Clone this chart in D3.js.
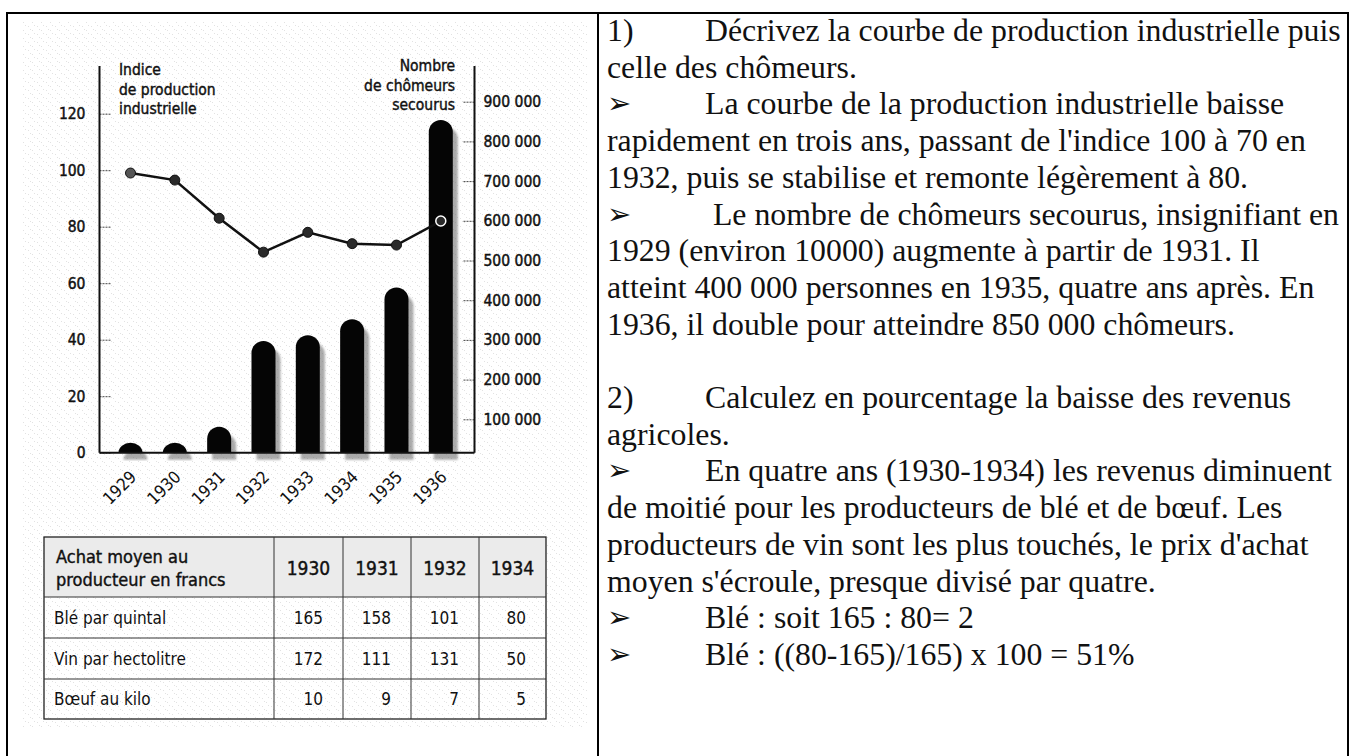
<!DOCTYPE html>
<html>
<head>
<meta charset="utf-8">
<script src="https://cdn.jsdelivr.net/npm/d3@7"></script>
<style>
body{margin:0;background:#fff;}
svg text{fill:#111;}
.ax text{font-family:'DejaVu Sans Condensed','DejaVu Sans',sans-serif;font-size:15.5px;stroke:#111;stroke-width:0.45px;}
.ax line{stroke:#444;stroke-dasharray:2,1;}
.ax path{display:none;}
.cond{font-family:'DejaVu Sans Condensed','DejaVu Sans',sans-serif;}
.thick{stroke:#111;stroke-width:0.4px;}
</style>
</head>
<body>
<div id="chart"></div>
<script>
// chart data
var years = ["1929","1930","1931","1932","1933","1934","1935","1936"];
var indexValues = [99, 96.5, 83, 71, 78, 74, 73.5, 82];
var unemployed = [41000, 41000, 81000, 297000, 312000, 352000, 432000, 854000];
var leftTicks = [0,20,40,60,80,100,120];
var rightTicks = [100000,200000,300000,400000,500000,600000,700000,800000,900000];
var leftTitle = ["Indice","de production","industrielle"];
var rightTitle = ["Nombre","de chômeurs","secourus"];

// table data
var tableHead = ["Achat moyen au","producteur en francs"];
var tableYears = ["1930","1931","1932","1934"];
var tableRows = ["Blé par quintal","Vin par hectolitre","Bœuf au kilo"];
var ble = [165,158,101,80];
var vin = [172,111,131,50];
var boeuf = [10,9,7,5];

// text on the right
var textLines = [
 ["1)","Décrivez la courbe de production industrielle puis"],
 ["","celle des chômeurs."],
 ["➢","La courbe de la production industrielle baisse"],
 ["","rapidement en trois ans, passant de l'indice 100 à 70 en"],
 ["","1932, puis se stabilise et remonte légèrement à 80."],
 ["➢"," Le nombre de chômeurs secourus, insignifiant en"],
 ["","1929 (environ 10000) augmente à partir de 1931. Il"],
 ["","atteint 400 000 personnes en 1935, quatre ans après. En"],
 ["","1936, il double pour atteindre 850 000 chômeurs."],
 ["",""],
 ["2)","Calculez en pourcentage la baisse des revenus"],
 ["","agricoles."],
 ["➢","En quatre ans (1930-1934) les revenus diminuent"],
 ["","de moitié pour les producteurs de blé et de bœuf. Les"],
 ["","producteurs de vin sont les plus touchés, le prix d'achat"],
 ["","moyen s'écroule, presque divisé par quatre."],
 ["➢","Blé : soit 165 : 80= 2"],
 ["➢","Blé : ((80-165)/165) x 100 = 51%"]
];

var W = 1354, H = 756;
var svg = d3.select("#chart").append("svg").attr("width", W).attr("height", H);

var defs = svg.append("defs");
var pat = defs.append("pattern").attr("id","speck").attr("width",9).attr("height",8)
  .attr("patternUnits","userSpaceOnUse");
[[1,2],[5,6],[7,1],[3,5]].forEach(function(p){
  pat.append("rect").attr("x",p[0]).attr("y",p[1]).attr("width",1).attr("height",1).attr("fill","#c4c4c4");
});
defs.append("filter").attr("id","blur").append("feGaussianBlur").attr("stdDeviation",1.3);

// frame
svg.append("rect").attr("x",7).attr("y",13).attr("width",1341).attr("height",760)
  .attr("fill","none").attr("stroke","#000").attr("stroke-width",2);
svg.append("line").attr("x1",598).attr("x2",598).attr("y1",13).attr("y2",H)
  .attr("stroke","#000").attr("stroke-width",2);

// speckled background of the scan
svg.append("rect").attr("x",22).attr("y",22).attr("width",565).attr("height",705)
  .attr("fill","url(#speck)").attr("opacity",0.5);

// scales
var x = d3.scalePoint().domain(years).range([130.5, 440.8]);
var yLeft = d3.scaleLinear().domain([0,120]).range([452.7, 113.7]);
var yRight = d3.scaleLinear().domain([0,900000]).range([459, 101.7]);
var axL = 99.5, axR = 474.5, axTop = 66, base = yLeft(0);
var barW = 24;

var fr = d3.formatLocale({decimal:",", thousands:" ", grouping:[3], currency:["","€"]});

var g = svg.append("g");

// bars with rounded tops and a grey printed shadow
function barPath(cx, top){
  var r = Math.min(barW/2, base - top);
  return "M"+(cx-barW/2)+","+base+" V"+(top+r)+
    " A"+(barW/2)+","+r+" 0 0 1 "+(cx+barW/2)+","+(top+r)+" V"+base+" Z";
}
g.selectAll(".shadow").data(unemployed).enter().append("path")
  .attr("class","shadow")
  .attr("d", function(d,i){ return barPath(x(years[i]), yRight(d)); })
  .attr("transform","translate(5,7)")
  .attr("fill","#666").attr("opacity",0.55).attr("filter","url(#blur)");
g.selectAll(".bar").data(unemployed).enter().append("path")
  .attr("class","bar")
  .attr("d", function(d,i){ return barPath(x(years[i]), yRight(d)); })
  .attr("fill","#050505");

// axes
var leftAxis = d3.axisLeft(yLeft).tickValues(leftTicks).tickSizeInner(-11).tickSizeOuter(0).tickPadding(14);
g.append("g").attr("class","ax").attr("transform","translate("+axL+",0)").call(leftAxis);
var rightAxis = d3.axisRight(yRight).tickValues(rightTicks).tickSizeInner(-11).tickSizeOuter(0)
  .tickPadding(9).tickFormat(fr.format(",d"));
g.append("g").attr("class","ax").attr("transform","translate("+axR+",0)").call(rightAxis);

g.append("line").attr("x1",axL).attr("x2",axL).attr("y1",axTop).attr("y2",base)
  .attr("stroke","#111").attr("stroke-width",2);
g.append("line").attr("x1",axR).attr("x2",axR).attr("y1",axTop).attr("y2",base)
  .attr("stroke","#111").attr("stroke-width",2);
g.append("line").attr("x1",axL).attr("x2",axR).attr("y1",base).attr("y2",base)
  .attr("stroke","#111").attr("stroke-width",2);

// axis titles
g.append("text").attr("class","cond thick").attr("y",75).attr("font-size",15.5)
  .selectAll("tspan").data(leftTitle).enter().append("tspan")
  .attr("x",119).attr("dy",function(d,i){return i?19.5:0;}).text(function(d){return d;});
g.append("text").attr("class","cond thick").attr("y",71).attr("font-size",15.5)
  .attr("text-anchor","end")
  .selectAll("tspan").data(rightTitle).enter().append("tspan")
  .attr("x",455).attr("dy",function(d,i){return i?19.5:0;}).text(function(d){return d;});

// year labels
g.selectAll(".yr").data(years).enter().append("text")
  .attr("class","yr cond")
  .attr("transform",function(d){return "translate("+(x(d)+7)+",478) rotate(-45)";})
  .attr("text-anchor","end").attr("font-size",17)
  .text(function(d){return d;});

// production line
var line = d3.line().x(function(d,i){return x(years[i]);}).y(function(d){return yLeft(d);});
g.append("path").datum(indexValues).attr("d",line)
  .attr("fill","none").attr("stroke","#111").attr("stroke-width",2.5);
g.selectAll(".dot").data(indexValues).enter().append("circle")
  .attr("class","dot")
  .attr("cx",function(d,i){return x(years[i]);})
  .attr("cy",function(d){return yLeft(d);})
  .attr("r",5)
  .attr("fill",function(d,i){return i===0?"#555":"#2a2a2a";})
  .attr("stroke",function(d,i){return i===years.length-1?"#fff":"#111";})
  .attr("stroke-width",function(d,i){return i===years.length-1?1.5:1;});

// table
var colX = [44, 274, 343, 411, 479, 546];
var rowY = [537, 597, 638, 679, 719];
var tb = svg.append("g").attr("class","cond");
tb.append("rect").attr("x",colX[0]).attr("y",rowY[0]).attr("width",colX[5]-colX[0])
  .attr("height",rowY[1]-rowY[0]).attr("fill","#ebebeb");
tb.append("rect").attr("x",colX[0]).attr("y",rowY[0]).attr("width",colX[5]-colX[0])
  .attr("height",rowY[4]-rowY[0]).attr("fill","none")
  .attr("stroke","#222").attr("stroke-width",1.3);
colX.slice(1,5).forEach(function(cx){
  tb.append("line").attr("x1",cx).attr("x2",cx).attr("y1",rowY[0]).attr("y2",rowY[4])
    .attr("stroke","#333").attr("stroke-width",1);
});
rowY.slice(1,4).forEach(function(ry){
  tb.append("line").attr("x1",colX[0]).attr("x2",colX[5]).attr("y1",ry).attr("y2",ry)
    .attr("stroke","#333").attr("stroke-width",1);
});
tb.append("text").attr("class","thick").attr("font-size",18).selectAll("tspan").data(tableHead).enter().append("tspan")
  .attr("x",56).attr("y",function(d,i){return 563+i*23;}).text(function(d){return d;});
tb.selectAll(".th").data(tableYears).enter().append("text")
  .attr("class","thick")
  .attr("x",function(d,i){return (colX[i+1]+colX[i+2])/2;}).attr("y",575)
  .attr("text-anchor","middle").attr("font-size",19).text(function(d){return d;});
var tableVals = [ble, vin, boeuf];
tableRows.forEach(function(name,r){
  var yy = (rowY[r+1]+rowY[r+2])/2 + 6;
  tb.append("text").attr("x",54).attr("y",yy).attr("font-size",17).text(name);
  tb.selectAll(".v"+r).data(tableVals[r]).enter().append("text")
    .attr("x",function(d,i){return colX[i+2]-20;}).attr("y",yy)
    .attr("text-anchor","end").attr("font-size",17).text(function(d){return d;});
});

// answer text
var tx = svg.append("g").attr("font-family","'Liberation Serif','Times New Roman',serif").attr("font-size",31.8);
textLines.forEach(function(l,i){
  var yy = 41 + i*36.7;
  if(l[0]){
    var isArrow = l[0]==="➢";
    tx.append("text").attr("x",607).attr("y",isArrow ? yy-1 : yy)
      .attr("font-family", isArrow ? "'DejaVu Sans',sans-serif" : null)
      .attr("font-size", isArrow ? 29 : null).text(l[0]);
    tx.append("text").attr("x",705).attr("y",yy).attr("xml:space","preserve").text(l[1]);
  } else if(l[1]) {
    tx.append("text").attr("x",607).attr("y",yy).text(l[1]);
  }
});
</script>
</body>
</html>
